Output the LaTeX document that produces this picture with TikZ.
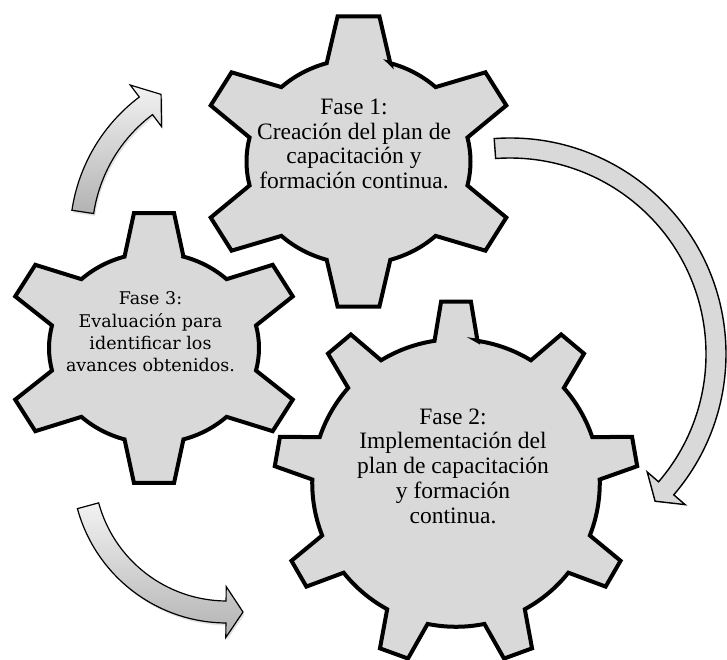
\documentclass[tikz,border=0pt]{standalone}
\usepackage{fontspec}
\setmainfont{Liberation Serif}
\newfontfamily\gearthreefont{DejaVu Serif}
\usetikzlibrary{calc,shadows}
\definecolor{gearfill}{HTML}{D9D9D9}
\tikzset{
  gearshape/.style={draw=black, line width=4pt, fill=gearfill, line join=miter, miter limit=10},
  gradarrow/.style={draw=black, line width=1.2pt, line join=miter,
    top color=white!95!black, bottom color=white!70!black,
    drop shadow={opacity=0.22, shadow xshift=1.5pt, shadow yshift=-2.5pt}},
  flatarrow/.style={draw=black, line width=1.4pt, fill=gearfill, line join=miter},
  gearlabel/.style={align=center, inner sep=0pt, font=\fontsize{23.5}{24.7}\selectfont},
  gearlabelthree/.style={align=center, inner sep=0pt, font=\gearthreefont\fontsize{17.5}{22.3}\selectfont},
}
% cx cy sx sy n rb tip-half-angle base-half-angle
\newcommand{\myGear}[8]{%
  \draw[gearshape, shift={(#1,#2)}, xscale=#3, yscale=#4]
    ({90-#8}:#6)
    \foreach \k [evaluate=\k as \ph using 90+(\k-1)*360/#5] in {1,...,#5}{
      -- ({\ph-#7}:1) -- ({\ph+#7}:1) -- ({\ph+#8}:#6)
      arc[start angle={\ph+#8}, end angle={\ph+360/#5-#8}, radius=#6]
    } -- cycle;
}
% style, center, r, half width, a0, a1, head half width, head length, tip direction
\newcommand{\myArrow}[9]{%
  \draw[#1] ($(#2)+(#5:{#3+#4})$) arc[start angle=#5, end angle=#6, radius={#3+#4}]
    -- ($(#2)+(#6:{#3+#7})$)
    -- ($(#2)+(#6:#3)+(#9:#8)$)
    -- ($(#2)+(#6:{#3-#7})$)
    -- ($(#2)+(#6:{#3-#4})$) arc[start angle=#6, end angle=#5, radius={#3-#4}]
    -- cycle;
}
\begin{document}
\begin{tikzpicture}[x=1pt,y=1pt]
\useasboundingbox (0,0) rectangle (727,659);
\fill[white] (0,0) rectangle (727,659);
% arrow centres
\coordinate (cA) at (244,423);
\coordinate (cB) at (227,191);
\coordinate (cC) at (510,305);
% arrows
\myArrow{gradarrow}{cA}{163}{11}{171.5}{127}{26}{19}{37}
\myArrow{gradarrow}{cB}{144}{11}{195.2}{269.6}{25.5}{17}{0}
\myArrow{flatarrow}{cC}{206}{10}{94.2}{-40.7}{25}{17}{-130.7}
% gears
\myGear{358.5}{497.5}{160}{146.5}{6}{0.70}{7.5}{16.5}
\myGear{154}{311}{150}{136}{6}{0.70}{7.7}{16.3}
\myGear{456}{176}{182}{182}{9}{0.79}{4.7}{8.6}
% labels
\node[gearlabel] (f1) at (354,515) {Fase 1:\\Creación del plan de\\capacitación y\\formación continua.};
\node[gearlabel] (f2) at (453,193) {Fase 2:\\Implementación del\\plan de capacitación\\y formación\\continua.};
\node[gearlabelthree] (f3) at (150.5,327) {Fase 3:\\Evaluación para\\identificar los\\avances obtenidos.};
\end{tikzpicture}
\end{document}
